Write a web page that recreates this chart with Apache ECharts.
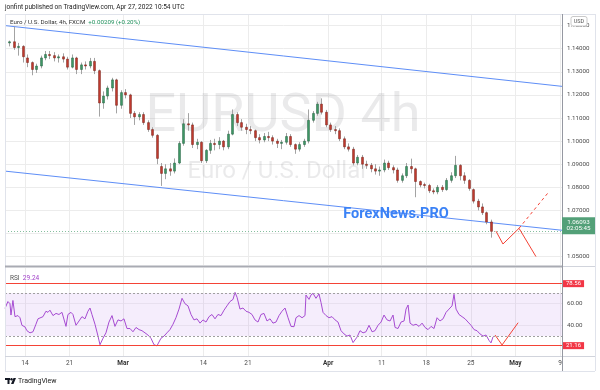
<!DOCTYPE html>
<html><head><meta charset="utf-8">
<script src="https://cdn.jsdelivr.net/npm/echarts@6/dist/echarts.min.js"></script>
<style>html,body{margin:0;padding:0;background:#fff}#c{width:600px;height:390px}</style>
</head><body><div id="c"></div>
<script>
// ---- DATA (x unit = trading day, 0 = Thu Feb 10 2022; two 12h candles per day) ----
const tickDays = [2, 7, 13, 22, 27, 36, 42, 47, 52, 57, 62];
const tickLabels = ['14', '21', 'Mar', '14', '21', 'Apr', '11', '18', '25', 'May', '9'];
const monthLabels = ['Mar', 'Apr', 'May'];
const priceTicks = [1.05, 1.06, 1.07, 1.08, 1.09, 1.10, 1.11, 1.12, 1.13, 1.14, 1.15];
const hiddenPriceLabels = [1.06];
const rsiTicks = [40, 60];

const opens = [
1.1425,1.1430, 1.1405,1.1410, 1.1360,1.1340, 1.1310,1.1325, 1.1360,1.1375,
1.1370,1.1360, 1.1365,1.1355, 1.1320,1.1360, 1.1310,1.1330, 1.1325,1.1345,
1.1305,1.1165, 1.1195,1.1230, 1.1265,1.1155, 1.1210,1.1200, 1.1120,1.1105,
1.1115,1.1080, 1.1050,1.1025, 1.0890,1.0860, 1.0880,1.0870, 1.0905,1.0990,
1.1075,1.1070, 1.0985,1.0995, 1.0915,1.0960, 1.0990,1.0985, 1.1000,1.0975,
1.1030,1.1115, 1.1080,1.1060, 1.1050,1.1045, 1.1015,1.1005, 1.1020,1.1015,
1.1000,1.0990, 1.0995,1.1020, 1.0985,1.0965, 1.0985,1.1000, 1.1090,1.1120,
1.1160,1.1125, 1.1070,1.1050, 1.1045,1.1010, 1.0975,1.0965, 1.0905,1.0930,
1.0900,1.0895, 1.0880,1.0870, 1.0875,1.0905, 1.0885,1.0875, 1.0830,1.0850,
1.0890,1.0880, 1.0825,1.0812, 1.0808,1.0785, 1.0780,1.0800, 1.0790,1.0830,
1.0850,1.0895, 1.0850,1.0830, 1.0790,1.0740, 1.0715,1.0690, 1.0650];
const closes = [
1.1430,1.1405, 1.1410,1.1365, 1.1340,1.1310, 1.1325,1.1360, 1.1375,1.1370,
1.1360,1.1365, 1.1355,1.1320, 1.1360,1.1310, 1.1330,1.1325, 1.1345,1.1305,
1.1165,1.1195, 1.1230,1.1265, 1.1155,1.1210, 1.1200,1.1120, 1.1105,1.1115,
1.1080,1.1050, 1.1025,1.0925, 1.0860,1.0880, 1.0870,1.0905, 1.0990,1.1075,
1.1070,1.0985, 1.0995,1.0915, 1.0960,1.0990, 1.0985,1.1000, 1.0975,1.1030,
1.1115,1.1080, 1.1060,1.1050, 1.1045,1.1015, 1.1005,1.1020, 1.1015,1.1000,
1.0990,1.0995, 1.1020,1.0985, 1.0965,1.0985, 1.1000,1.1090, 1.1120,1.1160,
1.1125,1.1070, 1.1050,1.1045, 1.1010,1.0975, 1.0965,1.0905, 1.0930,1.0900,
1.0895,1.0880, 1.0870,1.0875, 1.0905,1.0885, 1.0875,1.0830, 1.0850,1.0890,
1.0880,1.0825, 1.0810,1.0808, 1.0785,1.0780, 1.0800,1.0790, 1.0830,1.0850,
1.0895,1.0850, 1.0830,1.0795, 1.0740,1.0715, 1.0690,1.0650, 1.06093];
const lows = [
1.1410,1.1395, 1.1370,1.1340, 1.1320,1.1285, 1.1295,1.1315, 1.1350,1.1355,
1.1345,1.1340, 1.1340,1.1310, 1.1315,1.1290, 1.1290,1.1310, 1.1315,1.1290,
1.1106,1.1140, 1.1180,1.1215, 1.1120,1.1140, 1.1185,1.1100, 1.1070,1.1090,
1.1070,1.1040, 1.1015,1.0900, 1.0806,1.0835, 1.0850,1.0860, 1.0900,1.0980,
1.1045,1.0970, 1.0965,1.0905, 1.0905,1.0945, 1.0960,1.0965, 1.0960,1.0965,
1.1025,1.1065, 1.1045,1.1030, 1.1030,1.1000, 1.0990,1.0995, 1.1000,1.0985,
1.0970,1.0965, 1.0985,1.0975, 1.0945,1.0955, 1.0975,1.0990, 1.1080,1.1110,
1.1115,1.1060, 1.1040,1.1030, 1.1000,1.0965, 1.0955,1.0895, 1.0895,1.0880,
1.0880,1.0865, 1.0855,1.0850, 1.0865,1.0875, 1.0860,1.0820, 1.0820,1.0840,
1.0860,1.0757, 1.0800,1.0795, 1.0775,1.0770, 1.0770,1.0780, 1.0785,1.0820,
1.0840,1.0830, 1.0815,1.0785, 1.0730,1.0700, 1.0680,1.0640, 1.0582];
const highs = [
1.1435,1.1495, 1.1425,1.1415, 1.1375,1.1345, 1.1335,1.1370, 1.1390,1.1390,
1.1385,1.1375, 1.1380,1.1365, 1.1375,1.1365, 1.1340,1.1345, 1.1360,1.1360,
1.1310,1.1215, 1.1240,1.1274, 1.1270,1.1220, 1.1225,1.1205, 1.1130,1.1125,
1.1125,1.1090, 1.1060,1.1030, 1.0905,1.0900, 1.0905,1.0925, 1.1000,1.1095,
1.1121,1.1080, 1.1010,1.1000, 1.0965,1.1005, 1.1010,1.1017, 1.1005,1.1045,
1.1137,1.1125, 1.1095,1.1075, 1.1065,1.1050, 1.1030,1.1035, 1.1040,1.1025,
1.1010,1.1005, 1.1035,1.1030, 1.0990,1.0995, 1.1010,1.1137, 1.1130,1.1170,
1.1185,1.1135, 1.1080,1.1065, 1.1055,1.1020, 1.0990,1.0975, 1.0940,1.0940,
1.0915,1.0905, 1.0900,1.0890, 1.0920,1.0915, 1.0895,1.0885, 1.0860,1.0905,
1.0924,1.0885, 1.0830,1.0820, 1.0815,1.0795, 1.0810,1.0810, 1.0840,1.0865,
1.0936,1.0900, 1.0865,1.0835, 1.0795,1.0750, 1.0730,1.0695, 1.0660];

const rsiDays = [-0.24,0.09,0.32,0.43,0.65,0.88,1.21,1.44,1.66,2.00,2.22,2.56,2.90,3.23,3.46,3.68,4.02,4.35,4.58,4.80,
5.14,5.48,5.81,6.15,6.37,6.60,6.82,7.16,7.38,7.72,8.06,8.39,8.73,9.06,9.29,9.51,9.85,10.19,10.41,10.75,
11.08,11.42,11.76,11.87,12.09,12.43,12.77,13.10,13.44,13.78,14.11,14.45,14.79,15.12,15.46,15.79,16.13,16.47,16.80,16.92,
17.25,17.59,17.92,18.26,18.60,18.93,19.27,19.61,19.94,20.28,20.62,20.95,21.29,21.63,21.96,22.30,22.64,22.97,23.31,23.64,
23.98,24.32,24.65,24.99,25.33,25.55,25.78,26.11,26.45,26.79,27.12,27.46,27.79,28.13,28.47,28.80,29.14,29.48,29.81,30.15,
30.49,30.82,31.16,31.50,31.83,32.17,32.39,32.73,33.07,33.40,33.51,33.85,34.07,34.30,34.63,34.97,35.20,35.42,35.76,36.09,
36.43,36.77,37.10,37.44,37.78,38.11,38.45,38.79,39.01,39.23,39.57,39.91,40.24,40.58,40.92,41.25,41.59,41.93,42.26,42.60,
42.94,43.27,43.50,43.83,44.17,44.51,44.73,44.96,45.18,45.52,45.85,46.19,46.53,46.86,47.20,47.54,47.87,48.21,48.54,48.88,
49.22,49.55,49.89,50.11,50.34,50.67,51.01,51.35,51.68,52.02,52.36,52.69,53.03,53.37,53.70,54.04,54.26,54.48];
const rsiValues = [55.7,62,60,49.5,63,48,49,47,40,38.5,35,33,34,41,46,47.5,48,53,52,54,
49,51,50,52,52,39,50,52,50,40,44,48,46,53,56,50,41,30,22,28,
33,43,49,50,39,45,44,46,37,37,34,38,36,35,33,31,28,22,21,20.2,
28,30,33,36,41,47,55,65,60,58,50,45,46,42,45,43,48,50,46,50,
49,54,58,62,64,70.5,66,55,56,53,52,50,45,43,50,51,44,46,42,43,
49,53,56,47,39,38.7,47,49,47,49,68,64,68,69.6,65,69,61,52,49,47,
48,45,43,35,32,30,31,24,22.4,29,35,33,34,40,34,35,40,43,49.5,45,
44,49.5,38,37,43,44,55,58.8,42,40,41,39,42,38,36,39,37,47,44,46,
52,55,58,68.7,55,50,48,46,43,40,36,35,32,30,31,26,23.7,29.24];
const rsiBand = [30, 70];
const rsiLevels = [78.56, 21.16];

// drawings (day, price)
const trendUpper = [[-0.24, 1.1500], [62.22, 1.1237]];
const trendLower = [[-0.24, 1.0870], [62.22, 1.0614]];
const arrowMain = [[54.82, 1.0610], [55.6, 1.05545], [57.4, 1.06225], [59.3, 1.0500]];
const arrowDash = [[57.4, 1.06225], [60.76, 1.0781]];
const arrowRsi = [[54.71, 31.0], [55.5, 21.8], [57.3, 42.4]];
const lastPrice = 1.06093;
const countdown = '02:05:45';

// ---- CHART ----
const xMin = -0.24, xMax = 62.22;
const FONT = 'Roboto, "Noto Sans", sans-serif';
const UP = '#3f9a66', UPB = '#245f40', DN = '#c23b30', DNB = '#742219', WICK = '#a3a3a3';

const candleData = opens.map((o, i) => [Math.floor(i / 2) + (i % 2 ? 0.75 : 0.25), o, closes[i], lows[i], highs[i]]);
const rsiData = rsiDays.map((d, i) => [d, rsiValues[i]]);

function renderCandle(params, api) {
  const x = api.value(0), o = api.value(1), c = api.value(2), lo = api.value(3), hi = api.value(4);
  const pO = api.coord([x, o]), pC = api.coord([x, c]), pL = api.coord([x, lo]), pH = api.coord([x, hi]);
  const up = c >= o;
  const w = api.size([0.22, 0])[0];
  const top = Math.min(pO[1], pC[1]);
  const h = Math.max(1, Math.abs(pO[1] - pC[1]));
  const xc = Math.round(pO[0]) + 0.5;
  return { type: 'group', children: [
    { type: 'line', shape: { x1: xc, y1: pH[1], x2: xc, y2: pL[1] }, style: { stroke: WICK, lineWidth: 1 } },
    { type: 'rect', shape: { x: xc - w / 2, y: top, width: w, height: h },
      style: { fill: up ? UP : DN, stroke: up ? UPB : DNB, lineWidth: 0.5 } }
  ]};
}

const chart = echarts.init(document.getElementById('c'), null, { renderer: 'canvas' });
const gridColor = '#ececec';

const option = {
  animation: false,
  backgroundColor: '#ffffff',
  textStyle: { fontFamily: FONT },
  grid: [
    { left: 5, right: 38, top: 14, height: 251 },
    { left: 5, right: 38, top: 268, height: 88 }
  ],
  xAxis: [
    { type: 'value', gridIndex: 0, min: xMin, max: xMax,
      axisLine: { show: false }, axisTick: { show: false, customValues: tickDays },
      axisLabel: { show: false, customValues: tickDays },
      splitLine: { show: true, lineStyle: { color: gridColor, width: 1 } } },
    { type: 'value', gridIndex: 1, min: xMin, max: xMax,
      axisLine: { show: false }, axisTick: { show: false, customValues: tickDays },
      axisLabel: { show: true, customValues: tickDays, margin: 4, fontSize: 6.5, color: '#4a4a4a', fontFamily: FONT,
        formatter: v => { const i = tickDays.indexOf(v); const t = i >= 0 ? tickLabels[i] : '';
          return monthLabels.indexOf(t) >= 0 ? '{b|' + t + '}' : t; },
        rich: { b: { fontWeight: 'bold', fontSize: 6.5, color: '#333', fontFamily: FONT } } },
      splitLine: { show: true, lineStyle: { color: gridColor, width: 1 } } }
  ],
  yAxis: [
    { type: 'value', gridIndex: 0, position: 'right', min: 1.04636, max: 1.15502,
      axisLine: { show: false }, axisTick: { show: false, customValues: priceTicks },
      axisLabel: { customValues: priceTicks, margin: 5, fontSize: 6.2, color: '#4a4a4a', fontFamily: FONT,
        formatter: v => hiddenPriceLabels.some(h => Math.abs(h - v) < 1e-9) ? '' : v.toFixed(5) },
      splitLine: { show: true, lineStyle: { color: gridColor, width: 1 } } },
    { type: 'value', gridIndex: 1, position: 'right', min: 11.57, max: 93.06,
      axisLine: { show: false }, axisTick: { show: false, customValues: rsiTicks },
      axisLabel: { customValues: rsiTicks, margin: 5, fontSize: 6.2, color: '#4a4a4a', fontFamily: FONT,
        formatter: v => v.toFixed(2) },
      splitLine: { show: true, lineStyle: { color: '#f1f1f1', width: 1 } } }
  ],
  series: [
    { type: 'custom', name: 'EURUSD', xAxisIndex: 0, yAxisIndex: 0, renderItem: renderCandle,
      encode: { x: 0, y: [1, 2, 3, 4] }, data: candleData, clip: true, z: 3 },
    { type: 'lines', coordinateSystem: 'cartesian2d', xAxisIndex: 0, yAxisIndex: 0, polyline: false, z: 2,
      lineStyle: { color: '#5e8ef7', width: 1, opacity: 1 },
      data: [{ coords: trendUpper }, { coords: trendLower }] },
    { type: 'lines', coordinateSystem: 'cartesian2d', xAxisIndex: 0, yAxisIndex: 0, z: 2,
      lineStyle: { color: '#86bf9f', width: 1, type: [1, 2], opacity: 1 },
      data: [{ coords: [[xMin, lastPrice], [xMax, lastPrice]] }] },
    { type: 'lines', coordinateSystem: 'cartesian2d', xAxisIndex: 0, yAxisIndex: 0, polyline: true, z: 4,
      symbol: ['none', 'arrow'], symbolSize: 6,
      lineStyle: { color: '#f44336', width: 1, opacity: 1 },
      data: [{ coords: arrowMain }] },
    { type: 'lines', coordinateSystem: 'cartesian2d', xAxisIndex: 0, yAxisIndex: 0, polyline: true, z: 4,
      symbol: ['none', 'arrow'], symbolSize: 6,
      lineStyle: { color: '#f44336', width: 1, type: [3, 3], opacity: 1 },
      data: [{ coords: arrowDash }] },
    { type: 'line', name: 'RSI', xAxisIndex: 1, yAxisIndex: 1, data: rsiData, showSymbol: false, z: 3,
      lineStyle: { color: '#a64bd2', width: 1 }, itemStyle: { color: '#a64bd2' },
      markArea: { silent: true, itemStyle: { color: 'rgba(160, 90, 230, 0.11)' },
        data: [[{ yAxis: rsiBand[0] }, { yAxis: rsiBand[1] }]] },
      markLine: { silent: true, symbol: ['none', 'none'], animation: false,
        data: [
          { yAxis: rsiBand[1], lineStyle: { color: '#a0a0a0', type: [2, 2], width: 1 }, label: { show: false } },
          { yAxis: rsiBand[0], lineStyle: { color: '#a0a0a0', type: [2, 2], width: 1 }, label: { show: false } },
          ...rsiLevels.map(v => ({ yAxis: v, lineStyle: { color: '#f44336', type: 'solid', width: 1.2 },
            label: { show: true, position: 'end', distance: 1, formatter: v.toFixed(2), color: '#fff',
              backgroundColor: '#f23645', padding: [1, 3, 0, 3], fontSize: 6, fontFamily: FONT } }))
        ] } },
    { type: 'lines', coordinateSystem: 'cartesian2d', xAxisIndex: 1, yAxisIndex: 1, polyline: true, z: 4,
      symbol: ['none', 'arrow'], symbolSize: 6,
      lineStyle: { color: '#f44336', width: 1, opacity: 1 },
      data: [{ coords: arrowRsi }] }
  ]
};
chart.setOption(option);

const py = chart.convertToPixel({ xAxisIndex: 0, yAxisIndex: 0 }, [xMax, lastPrice])[1];
const txt = (x, y, text, size, fill, extra, z) => ({ type: 'text', x, y, z: z || 70,
  style: Object.assign({ text, font: size + 'px ' + FONT, fill, align: 'left', verticalAlign: 'middle' }, extra || {}) });
const ln = (x1, y1, x2, y2, color, w) => ({ type: 'line', z: 40, shape: { x1, y1, x2, y2 }, style: { stroke: color, lineWidth: w || 1 } });

chart.setOption({ graphic: [
  // watermark
  { type: 'text', x: 283, y: 117, z: 1, style: { text: 'EURUSD 4h', font: '54px ' + FONT, fill: 'rgba(150,150,155,0.2)', align: 'center', verticalAlign: 'middle' } },
  { type: 'text', x: 278, y: 172, z: 1, style: { text: 'Euro / U.S. Dollar', font: '24px ' + FONT, fill: 'rgba(150,150,155,0.2)', align: 'center', verticalAlign: 'middle' } },
  // frame
  ln(5, 14.5, 595, 14.5, '#e0e3eb'), ln(5.5, 14, 5.5, 371, '#e0e3eb'), ln(595.5, 14, 595.5, 371, '#e0e3eb'),
  ln(5, 371.5, 595, 371.5, '#e0e3eb'), ln(5, 356.5, 595, 356.5, '#d1d4dc'),
  ln(5, 266.5, 562, 266.5, '#a9abb3', 2), ln(562, 266.5, 595, 266.5, '#d1d4dc'),
  ln(562.5, 14, 562.5, 371, '#9598a1'),
  // header
  txt(5, 7, 'jonfint published on TradingView.com, Apr 27, 2022 10:54 UTC', 6.5, '#222'),
  { type: 'text', x: 10, y: 22, z: 70, style: { text: '{a|Euro / U.S. Dollar, 4h, FXCM}  {g|+0.00209 (+0.20%)}', font: '6.2px ' + FONT, verticalAlign: 'middle',
    rich: { a: { fill: '#333', font: '6.2px ' + FONT }, g: { fill: '#22915d', font: '6.2px ' + FONT } } } },
  // USD badge
  { type: 'rect', z: 60, shape: { x: 571, y: 16.5, width: 16, height: 9.5, r: 2 }, style: { fill: '#fff', stroke: '#c9c9c9', lineWidth: 1 } },
  txt(579, 21.3, 'USD', 5.5, '#555', { align: 'center' }, 80),
  // ForexNews.PRO
  { type: 'text', x: 396, y: 214, z: 55, style: { text: 'ForexNews.PRO', font: 'bold 14.5px ' + FONT, fill: '#3b82f6', align: 'center', verticalAlign: 'middle' } },
  // current price box
  { type: 'rect', z: 60, shape: { x: 562, y: py - 14, width: 33, height: 17 }, style: { fill: '#53a078' } },
  txt(578.5, py - 9.3, lastPrice.toFixed(5), 6.2, '#fff', { align: 'center' }, 80),
  txt(578.5, py - 2.5, countdown, 6.2, '#fff', { align: 'center' }, 80),
  // RSI legend
  { type: 'text', x: 10, y: 278, z: 70, style: { text: '{a|RSI}  {p|' + rsiValues[rsiValues.length - 1].toFixed(2) + '}', font: '6.5px ' + FONT, verticalAlign: 'middle',
    rich: { a: { fill: '#555', font: '6.5px ' + FONT }, p: { fill: '#a03fc8', font: '6.5px ' + FONT } } } },
  // TradingView logo
  { type: 'rect', z: 50, shape: { x: 5, y: 378, width: 5, height: 2 }, style: { fill: '#131722' } },
  { type: 'rect', z: 50, shape: { x: 7.5, y: 378, width: 2, height: 6 }, style: { fill: '#131722' } },
  { type: 'circle', z: 50, shape: { cx: 11.5, cy: 379.2, r: 1.2 }, style: { fill: '#131722' } },
  { type: 'polygon', z: 50, shape: { points: [[13.5, 378], [16, 378], [13.5, 384], [11, 384]] }, style: { fill: '#131722' } },
  txt(18, 381, 'TradingView', 7, '#222')
]});
</script></body></html>
